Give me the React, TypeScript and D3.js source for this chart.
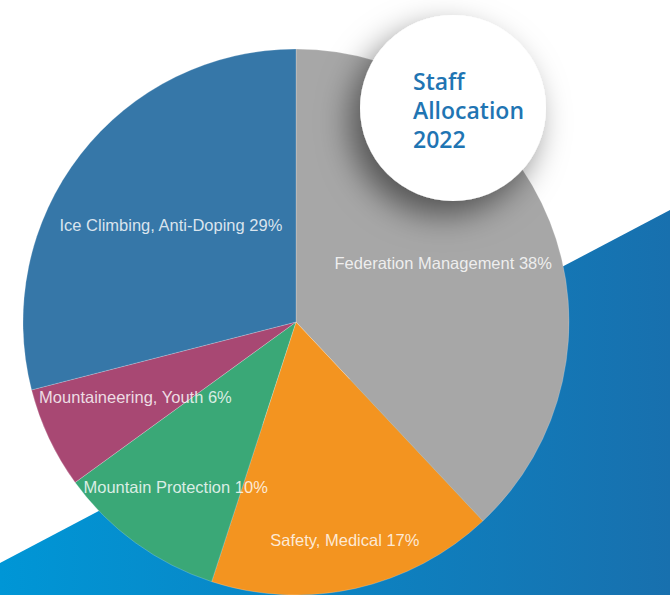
import React, { useEffect, useRef } from "react";
import * as d3 from "d3";

// slices, clockwise from 12 o'clock
const categories = [
  "Federation Management",
  "Safety, Medical",
  "Mountain Protection",
  "Mountaineering, Youth",
  "Ice Climbing, Anti-Doping",
];
const shares = [38, 17, 10, 6, 29];
const colors = ["#a7a7a7", "#f39420", "#3aa877", "#a84873", "#3677a8"];
const titleLines = ["Staff", "Allocation", "2022"];

// how far out each label sits, as a fraction of the radius
const labelR = [0.58, 0.82, 0.75, 0.65, 0.58];

const App = () => {
  const svgRef = useRef(null);

  useEffect(() => {
    const width = 670;
    const height = 595;
    const cx = 296;
    const cy = 322;
    const radius = 273;

    const svg = d3.select(svgRef.current).attr("width", width).attr("height", height);
    svg.selectAll("*").remove();

    const defs = svg.append("defs");
    const grad = defs
      .append("linearGradient")
      .attr("id", "band")
      .attr("x1", "0%")
      .attr("x2", "100%");
    grad.append("stop").attr("offset", "0%").attr("stop-color", "#0096d6");
    grad.append("stop").attr("offset", "100%").attr("stop-color", "#1870ae");

    const shadow = defs
      .append("filter")
      .attr("id", "shadow")
      .attr("x", "-50%")
      .attr("y", "-50%")
      .attr("width", "200%")
      .attr("height", "200%");
    shadow
      .append("feDropShadow")
      .attr("dx", -10)
      .attr("dy", 14)
      .attr("stdDeviation", 16)
      .attr("flood-color", "#000")
      .attr("flood-opacity", 0.5);

    // white page + blue diagonal band
    svg.append("rect").attr("width", width).attr("height", height).attr("fill", "#fff");
    svg
      .append("path")
      .attr("d", `M0,563 L${width},210 L${width},${height} L0,${height} Z`)
      .attr("fill", "url(#band)");

    const pie = d3
      .pie()
      .value((d) => d)
      .sort(null);
    const arcs = pie(shares);
    const arc = d3.arc().innerRadius(0).outerRadius(radius);

    const g = svg.append("g").attr("transform", `translate(${cx},${cy})`);

    g.selectAll("path.slice")
      .data(arcs)
      .join("path")
      .attr("class", "slice")
      .attr("d", arc)
      .attr("fill", (d, i) => colors[i])
      .attr("stroke", "rgba(255,255,255,0.35)")
      .attr("stroke-width", 0.6);

    g.selectAll("text.label")
      .data(arcs)
      .join("text")
      .attr("class", "label")
      .attr("transform", (d, i) => {
        const r = radius * labelR[i];
        const [x, y] = d3.arc().innerRadius(r).outerRadius(r).centroid(d);
        return `translate(${x},${y})`;
      })
      .attr("text-anchor", "middle")
      .attr("dy", "0.35em")
      .attr("font-family", "'Liberation Sans', Arial, sans-serif")
      .attr("font-size", 16.5)
      .attr("fill", "rgba(255,255,255,0.82)")
      .text((d, i) => `${categories[i]} ${shares[i]}%`);

    // title badge
    const badge = svg.append("g").attr("transform", "translate(453,108)");
    badge
      .append("circle")
      .attr("r", 93)
      .attr("fill", "#fff")
      .attr("filter", "url(#shadow)");
    badge
      .selectAll("text")
      .data(titleLines)
      .join("text")
      .attr("x", -40)
      .attr("y", (d, i) => -18 + i * 29)
      .attr("font-family", "'Open Sans', sans-serif")
      .attr("font-weight", 600)
      .attr("font-size", 23)
      .attr("fill", "#1f75b3")
      .text((d) => d);
  }, []);

  return (
    <div style={{ position: "absolute", top: 0, left: 0 }}>
      <svg ref={svgRef} style={{ display: "block" }}></svg>
    </div>
  );
};

export default App;
